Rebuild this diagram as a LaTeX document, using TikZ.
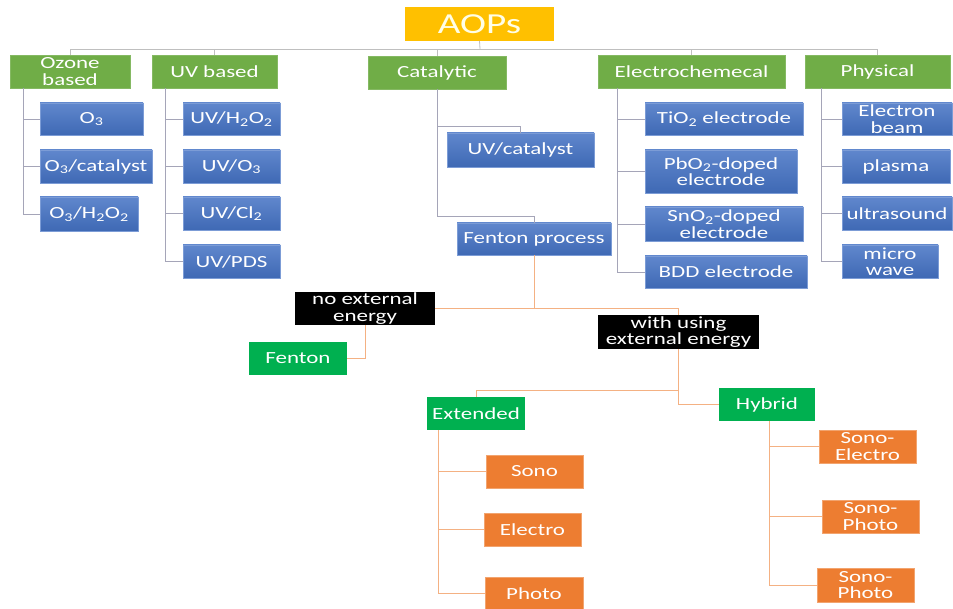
\documentclass[tikz,border=0pt]{standalone}
\usepackage{fontspec}
\setmainfont[FakeStretch=1.35]{Carlito}
\definecolor{cgold}{HTML}{FFC000}
\definecolor{cgreen}{HTML}{70AD47}
\definecolor{cblue}{HTML}{4472C4}
\definecolor{cgreentwo}{HTML}{00B050}
\definecolor{corange}{HTML}{ED7D31}
\definecolor{ltgray}{HTML}{BFBFBF}
\definecolor{midgray}{HTML}{A5A5B8}
\definecolor{lsalmon}{HTML}{F4B183}
\newcommand{\mybox}[7]{\node[#1, minimum width={(#5-#3)*1pt}, minimum height={(#6-#4)*1pt}] (#2) at ({(#3+#5)/2},{(#4+#6)/2}) {#7};}
\tikzset{
  base/.style={inner sep=0pt, outer sep=0pt, align=center, text=white,
    font=\fontsize{17}{16.5}\selectfont},
  goldbox/.style={base, fill=cgold, text=white!90!yellow, font=\fontsize{29}{29}\selectfont},
  catbox/.style={base, fill=cgreen, draw=cgreen!85!white, line width=0.4pt},
  bluebox/.style={base, top color=cblue!85!white, bottom color=cblue!92!black, draw=cblue!70!white, line width=0.4pt},
  blackbox/.style={base, fill=black},
  greenbox/.style={base, fill=cgreentwo},
  orangebox/.style={base, fill=corange, draw=corange!70!white, line width=0.4pt},
  topline/.style={draw=ltgray, line width=0.8pt},
  upline/.style={draw=midgray, line width=0.8pt},
  lowline/.style={draw=lsalmon, line width=0.8pt},
}
\begin{document}
\begin{tikzpicture}[x=1pt,y=-1pt]
\useasboundingbox[fill=white] (0,0) rectangle (953,609);
% root
\mybox{goldbox}{aops}{405}{7}{554}{41}{AOPs}
% categories
\mybox{catbox}{ozone}{10}{55}{130}{88}{Ozone\\based}
\mybox{catbox}{uvb}{152}{55}{277}{88}{UV based}
\mybox{catbox}{catal}{368}{56}{506}{89}{Catalytic}
\mybox{catbox}{elec}{598}{55}{785}{88}{Electrochemecal}
\mybox{catbox}{phys}{805}{55}{950}{88}{Physical}
% ozone children
\mybox{bluebox}{othree}{40}{103}{143}{135}{O\textsubscript{3}}
\mybox{bluebox}{ocat}{40}{150}{152}{183}{O\textsubscript{3}/catalyst}
\mybox{bluebox}{ohp}{40}{197}{138}{231}{O\textsubscript{3}/H\textsubscript{2}O\textsubscript{2}}
% UV children
\mybox{bluebox}{uvhp}{183}{103}{280}{135}{UV/H\textsubscript{2}O\textsubscript{2}}
\mybox{bluebox}{uvo}{183}{150}{280}{183}{UV/O\textsubscript{3}}
\mybox{bluebox}{uvcl}{183}{197}{280}{230}{UV/Cl\textsubscript{2}}
\mybox{bluebox}{uvpds}{183}{245}{280}{278}{UV/PDS}
% catalytic children
\mybox{bluebox}{uvcat}{447}{133}{594}{167}{UV/catalyst}
\mybox{bluebox}{fproc}{457}{223}{611}{255}{Fenton process}
% electrochemical children
\mybox{bluebox}{tio}{645}{103}{803}{135}{TiO\textsubscript{2} electrode}
\mybox{bluebox}{pbo}{645}{150}{797}{193}{PbO\textsubscript{2}-doped\\electrode}
\mybox{bluebox}{sno}{645}{207}{803}{241}{SnO\textsubscript{2}-doped\\electrode}
\mybox{bluebox}{bdd}{645}{256}{807}{288}{BDD electrode}
% physical children
\mybox{bluebox}{ebeam}{842}{103}{952}{135}{Electron\\beam}
\mybox{bluebox}{plasma}{842}{150}{950}{183}{plasma}
\mybox{bluebox}{ultra}{842}{197}{952}{230}{ultrasound}
\mybox{bluebox}{micro}{842}{245}{938}{278}{micro\\wave}
% Fenton branches
\mybox{blackbox}{noext}{295}{292}{435}{325}{no external\\energy}
\mybox{blackbox}{withext}{598}{315}{759}{349}{with using\\external energy}
\mybox{greenbox}{fenton}{249}{342}{347}{375}{Fenton}
\mybox{greenbox}{extd}{427}{397}{525}{430}{Extended}
\mybox{greenbox}{hybrid}{719}{388}{815}{421}{Hybrid}
\mybox{orangebox}{sono}{486}{455}{583}{488}{Sono}
\mybox{orangebox}{electro}{484}{513}{581}{546}{Electro}
\mybox{orangebox}{photo}{485}{577}{583}{610}{Photo}
\mybox{orangebox}{soel}{819}{430}{916}{463}{Sono-\\Electro}
\mybox{orangebox}{soph}{822}{500}{919}{533}{Sono-\\Photo}
\mybox{orangebox}{sophb}{817}{568}{914}{602}{Sono-\\Photo}
% coordinates
\coordinate (bus) at (480,49);
\coordinate (ozv) at (23,88);
\coordinate (uvv) at (165,88);
\coordinate (catv) at (437,126);
\coordinate (catw) at (437,216);
\coordinate (elv) at (617,88);
\coordinate (phv) at (821,88);
\coordinate (extb) at (678,390);
\coordinate (extv) at (438,430);
\coordinate (hybv) at (769,421);
% top connectors
\draw[topline] (aops.south) -- (bus);
\foreach \c in {ozone,uvb,catal,elec,phys} \draw[topline] (bus) -| (\c.north);
% category children
\foreach \c in {othree,ocat,ohp} \draw[upline] (ozv) |- (\c.west);
\foreach \c in {uvhp,uvo,uvcl,uvpds} \draw[upline] (uvv) |- (\c.west);
\draw[upline] (catal.south) -- (catw) -| (fproc.north);
\draw[upline] (catv) -| (uvcat.north);
\foreach \c in {tio,pbo,sno,bdd} \draw[upline] (elv) |- (\c.west);
\foreach \c in {ebeam,plasma,ultra,micro} \draw[upline] (phv) |- (\c.west);
% lower connectors
\draw[lowline] (fproc.south) -- (fproc.south |- noext.east);
\draw[lowline] (noext.east) -| (withext.north);
\draw[lowline] (noext.south) |- (fenton.east);
\draw[lowline] (withext.south) |- (hybrid.west);
\draw[lowline] (extb) -| (extd.north);
\foreach \c in {sono,electro,photo} \draw[lowline] (extd.south -| extv) |- (\c.west);
\foreach \c in {soel,soph,sophb} \draw[lowline] (hybv) |- (\c.west);
\end{tikzpicture}
\end{document}
